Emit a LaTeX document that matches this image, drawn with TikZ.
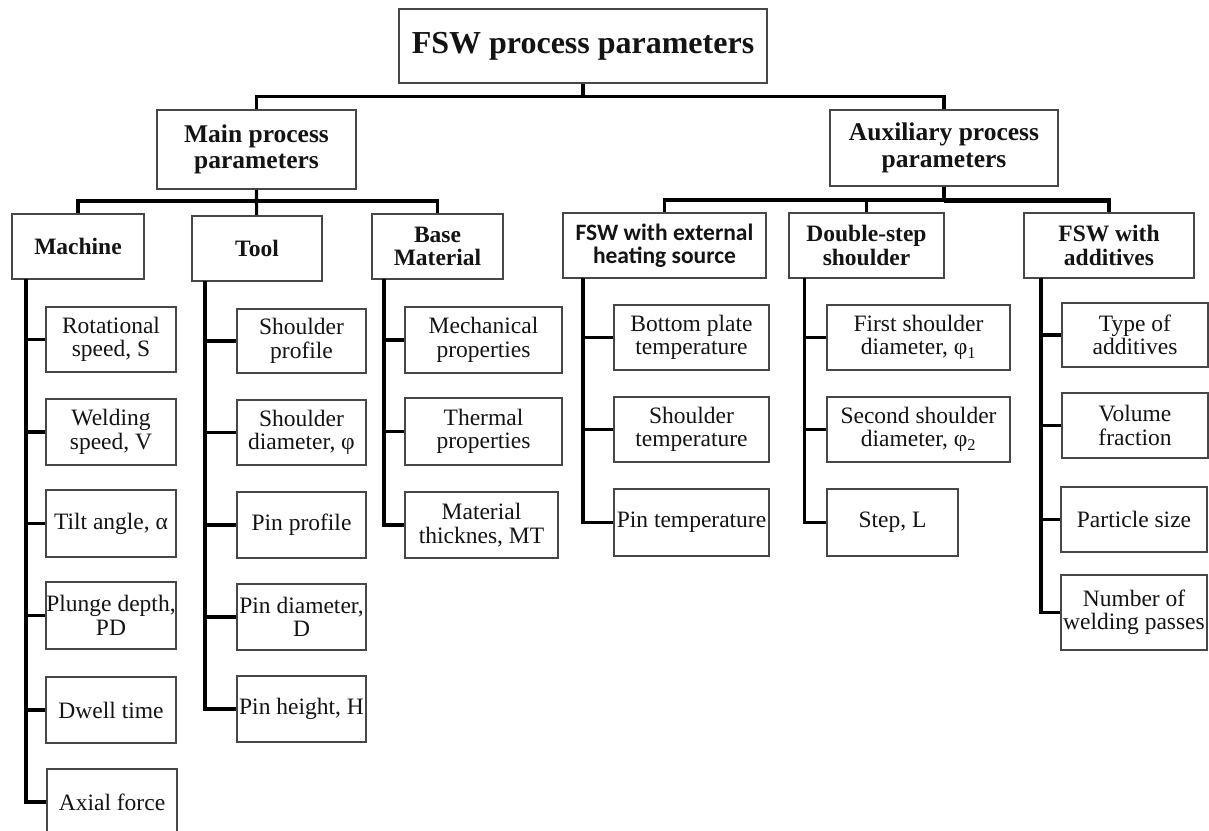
\documentclass[tikz,border=0pt]{standalone}
\usepackage{fontspec}
\setmainfont{Liberation Serif}
\newfontfamily\carl{Carlito}
\begin{document}
\begin{tikzpicture}[x=1pt,y=-1pt,
  box/.style={draw=black!72, line width=1.8pt, fill=white, inner sep=0pt, align=center, text=black!92},
  leaf/.style={box, font=\fontsize{23.5}{23.5}\selectfont},
  lvltwo/.style={box, font=\fontsize{23.5}{23.5}\selectfont\bfseries},
  lvlone/.style={box, font=\fontsize{25.5}{26.7}\selectfont\bfseries},
  rootbox/.style={box, font=\fontsize{32}{38}\selectfont\bfseries},
  conn/.style={draw=black, line width=3.1pt, line cap=butt, line join=miter}
]
\useasboundingbox (0,0) rectangle (1209,830);
\fill[white] (0,0) rectangle (1209,830);

% ---------- nodes ----------
\node[rootbox, minimum width=368pt, minimum height=74pt] (root) at (583,46) {FSW process parameters};
\node[lvlone, minimum width=199pt, minimum height=79pt] (main) at (256.5,149.5) {Main process\\parameters};
\node[lvlone, minimum width=228pt, minimum height=76pt] (aux) at (944,148) {Auxiliary process\\parameters};

\node[lvltwo, minimum width=132pt, minimum height=65pt] (mach) at (78,246.5) {Machine};
\node[lvltwo, minimum width=130pt, minimum height=65pt] (tool) at (257,248.5) {Tool};
\node[lvltwo, minimum width=131pt, minimum height=65pt] (base) at (437.5,246.5) {Base\\Material};
\node[box, font=\carl\fontsize{23.5}{23.5}\selectfont\bfseries, minimum width=203pt, minimum height=65pt] (ext) at (664.5,245.5) {FSW with external\\heating source};
\node[lvltwo, minimum width=155pt, minimum height=65pt] (dbl) at (866.5,245.5) {Double-step\\shoulder};
\node[lvltwo, minimum width=170pt, minimum height=65pt] (add) at (1109,245.5) {FSW with\\additives};

% Machine leaves
\node[leaf, minimum width=130pt, minimum height=65pt] (m1) at (111,339.5) {Rotational\\speed, S};
\node[leaf, minimum width=130pt, minimum height=66pt] (m2) at (111,432) {Welding\\speed, V};
\node[leaf, minimum width=130pt, minimum height=67pt] (m3) at (111,523.5) {Tilt angle, α};
\node[leaf, minimum width=130pt, minimum height=67pt] (m4) at (111,615.5) {Plunge depth,\\PD};
\node[leaf, minimum width=130pt, minimum height=66pt] (m5) at (111,710) {Dwell time};
\node[leaf, minimum width=130pt, minimum height=66pt] (m6) at (112,802) {Axial force};

% Tool leaves
\node[leaf, minimum width=129pt, minimum height=64pt] (t1) at (301.5,341) {Shoulder\\profile};
\node[leaf, minimum width=129pt, minimum height=65pt] (t2) at (301.5,432.5) {Shoulder\\diameter, φ};
\node[leaf, minimum width=129pt, minimum height=66pt] (t3) at (301.5,525) {Pin profile};
\node[leaf, minimum width=129pt, minimum height=66pt] (t4) at (301.5,617) {Pin diameter,\\D};
\node[leaf, minimum width=129pt, minimum height=66pt] (t5) at (301.5,709) {Pin height, H};

% Base material leaves
\node[leaf, minimum width=157pt, minimum height=66pt] (b1) at (483.5,340) {Mechanical\\properties};
\node[leaf, minimum width=157pt, minimum height=67pt] (b2) at (483.5,431.5) {Thermal\\properties};
\node[leaf, minimum width=153pt, minimum height=66pt] (b3) at (481.5,525) {Material\\thicknes, MT};

% External heating leaves
\node[leaf, minimum width=155pt, minimum height=65pt] (e1) at (691.5,337.5) {Bottom plate\\temperature};
\node[leaf, minimum width=155pt, minimum height=65pt] (e2) at (691.5,429.5) {Shoulder\\temperature};
\node[leaf, minimum width=155pt, minimum height=67pt] (e3) at (691.5,522.5) {Pin temperature};

% Double-step leaves
\node[leaf, minimum width=183pt, minimum height=65pt] (d1) at (918.5,337.5) {First shoulder\\diameter, φ\textsubscript{1}};
\node[leaf, minimum width=183pt, minimum height=65pt] (d2) at (918.5,429.5) {Second shoulder\\diameter, φ\textsubscript{2}};
\node[leaf, minimum width=131pt, minimum height=67pt] (d3) at (892.5,522.5) {Step, L};

% Additives leaves
\node[leaf, minimum width=146pt, minimum height=64pt] (a1) at (1135,335) {Type of\\additives};
\node[leaf, minimum width=146pt, minimum height=65pt] (a2) at (1135,425.5) {Volume\\fraction};
\node[leaf, minimum width=146pt, minimum height=65pt] (a3) at (1134,519.5) {Particle size};
\node[leaf, minimum width=146pt, minimum height=75pt] (a4) at (1134,612.5) {Number of\\welding passes};

% ---------- junction coordinates ----------
\coordinate (j0) at (583,96.7);
\coordinate (j1) at (256.5,201);
\coordinate (j2) at (944,200);
\coordinate (ms) at (26,279);
\coordinate (ts) at (205,281);
\coordinate (bs) at (384,279);
\coordinate (es) at (583,278);
\coordinate (ds) at (804.6,278);
\coordinate (as) at (1041,278);

% ---------- connectors ----------
\draw[conn] (root) -- (j0);
\draw[conn] (j0) -| (main);
\draw[conn] (j0) -| (aux);

\draw[conn] (main) -- (j1) -- (tool);
\draw[conn] (j1) -| (mach);
\draw[conn] (j1) -| (base);

\draw[conn] (aux) -- (j2);
\draw[conn] (j2) -| (ext);
\draw[conn] (j2) -| (dbl);
\draw[conn] (j2) -| (add);
\draw[conn, line width=2.4pt] ([yshift=-1.8pt]j2) -- ([yshift=-1.8pt]j2 -| add.north);

% spines
\draw[conn] (ms) |- (m6.west);
\foreach \n in {m1,m2,m3,m4,m5} \draw[conn] (\n.west -| ms) -- (\n.west);
\draw[conn] (ts) |- (t5.west);
\foreach \n in {t1,t2,t3,t4} \draw[conn] (\n.west -| ts) -- (\n.west);
\draw[conn] (bs) |- (b3.west);
\foreach \n in {b1,b2} \draw[conn] (\n.west -| bs) -- (\n.west);
\draw[conn] (es) |- (e3.west);
\foreach \n in {e1,e2} \draw[conn] (\n.west -| es) -- (\n.west);
\draw[conn] (ds) |- (d3.west);
\foreach \n in {d1,d2} \draw[conn] (\n.west -| ds) -- (\n.west);
\draw[conn] (as) |- (a4.west);
\foreach \n in {a1,a2,a3} \draw[conn] (\n.west -| as) -- (\n.west);
\end{tikzpicture}
\end{document}
